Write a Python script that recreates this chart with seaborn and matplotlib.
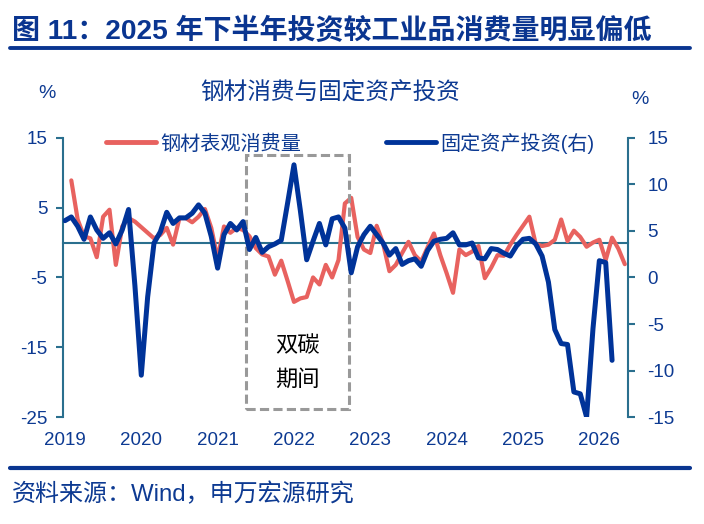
import numpy as np
import pandas as pd
import seaborn as sns
import matplotlib.pyplot as plt
from matplotlib.patches import Rectangle
from matplotlib.lines import Line2D

# monthly values, index 0 = Jan 2019 (None = no data that month)
steel = [None, 8.9, 3.3, 0.9, 0.6, -2.1, 3.7, 4.7, -3.2, 2.3,
         3.5, 3.0, None, None, 0.6, 1.1, 2.1, -0.3, 3.5, 3.5,
         2.9, 3.7, 4.8, 2.1, -2.3, 2.3, 1.4, 2.1, 1.8, 0.9,
         -0.8, -1.7, -2.0, -4.6, -2.6, -5.5, -8.5, -8.0, -7.8, -5.0,
         -6.0, -3.2, -5.0, -2.5, 5.6, 6.4, 0.8, -1.0, -1.5, 2.4,
         -0.1, -4.1, -3.2, -1.5, 0.1, -1.8, -2.7, -0.7, 1.3, -1.8,
         -4.4, -7.2, -1.0, -1.8, -1.3, -0.5, -5.1, -3.6, -1.8, -1.9,
         -0.3, 1.1, 2.4, 3.7, -0.2, -0.5, -0.3, 0.4, 3.3, 0.2,
         1.7, 0.8, -0.6, 0.0, 0.4, -2.5, 0.7, -0.9, -3.1]
fai = [6.1, 6.5, 5.5, 4.1, 6.5, 5.1, 4.2, 4.8, 3.6, 5.1,
       7.3, -0.9, -10.5, -2.1, 3.7, 4.9, 7.0, 5.8, 6.4, 6.4,
       6.9, 7.8, 6.9, 4.4, 1.0, 4.6, 5.8, 5.1, 6.0, 3.0,
       4.3, 2.7, 3.3, 3.6, 4.0, 8.0, 12.1, 7.2, 1.9, 3.9,
       5.8, 3.5, 6.3, 6.5, 5.3, 0.5, 3.3, 4.6, 5.5, 4.6,
       3.7, 2.4, 3.1, 1.4, 1.8, 2.0, 1.2, 2.9, 3.9, 4.1,
       4.2, 4.8, 3.5, 3.5, 3.7, 2.1, 2.0, 3.1, 3.0, 2.6,
       2.3, 3.4, 4.1, 4.2, 3.6, 2.3, -0.5, -5.6, -7.1, -7.2,
       -12.3, -12.5, -15.0, -5.5, 1.8, 1.6, -8.9]
years = ['2019', '2020', '2021', '2022', '2023', '2024', '2025', '2026']
legend_labels = ['钢材表观消费量', '固定资产投资(右)']

sns.set_style('white')
plt.rcParams['font.family'] = ['Liberation Sans', 'Noto Sans CJK SC']
plt.rcParams['axes.unicode_minus'] = False

navy = '#0d3a92'
teal = '#2a6f8e'
red = '#e8625f'
blue = '#003399'

df_s = pd.DataFrame({'month': np.arange(len(steel)), 'val': pd.to_numeric(pd.Series(steel))}).dropna()
df_f = pd.DataFrame({'month': np.arange(len(fai)), 'val': fai})

fig = plt.figure(figsize=(7.04, 5.24), dpi=100)
ax = fig.add_axes([0.089, 0.204, 0.803, 0.533])
ax2 = ax.twinx()

sns.lineplot(data=df_s, x='month', y='val', ax=ax, color=red, linewidth=3.0, zorder=3)
sns.lineplot(data=df_f, x='month', y='val', ax=ax2, color=blue, linewidth=3.6, zorder=3)

ax.set_xlim(-0.36, 88.5)
ax.set_ylim(-25, 15)
ax.set_yticks([-25, -15, -5, 5, 15])
ax2.set_ylim(-15, 15)
ax2.set_yticks(range(-15, 16, 5))
for a in (ax, ax2):
    a.set_xlabel('')
    a.set_ylabel('')
    a.grid(False)

# spines
for s in ['top', 'right']:
    ax.spines[s].set_visible(False)
for s in ['top', 'bottom', 'left']:
    ax2.spines[s].set_visible(False)
ax.spines['left'].set_color(teal)
ax.spines['left'].set_linewidth(1.5)
ax.spines['bottom'].set_position(('data', 0))
ax.spines['bottom'].set_color(teal)
ax.spines['bottom'].set_linewidth(1.5)
ax2.spines['right'].set_color(teal)
ax2.spines['right'].set_linewidth(1.5)

ax.set_xticks(np.arange(0, 96, 12))
ax.tick_params(axis='x', direction='out', length=4, width=1.5, color=teal, labelbottom=False)
ax.tick_params(axis='y', direction='out', length=5, width=1.5, color=teal,
               labelcolor=navy, labelsize=13.5, pad=6)
ax2.tick_params(axis='y', direction='out', length=5, width=1.5, color=teal,
                labelcolor=navy, labelsize=13.5, pad=9)

secax = ax.secondary_xaxis(0)
secax.set_xticks(np.arange(0, 96, 12), labels=years)
secax.tick_params(length=0, pad=11, labelsize=13.5, labelcolor=navy)
secax.spines['bottom'].set_visible(False)

# legend
handles = [Line2D([], [], color=red, lw=3.5), Line2D([], [], color=blue, lw=3.5)]
ax2.legend(handles, legend_labels, ncol=2, loc='center', bbox_to_anchor=(0.508, 0.982),
           frameon=False, fontsize=14.5, handlelength=2.5, columnspacing=4.2,
           handletextpad=0.2, labelcolor=navy)

# "双碳期间" box
ax.add_patch(Rectangle((28.4, -23.8), 16.2, 36.4, fill=False, ls=(0, (3, 1.4)),
                       lw=2.2, ec='#999999', zorder=4, clip_on=False))
ax.text(36.5, -17.3, '双碳\n期间', ha='center', va='center', fontsize=16,
        linespacing=1.8, color='black', zorder=5)

# header / footer
fig.text(12 / 704, 1 - 31 / 524, '图 11：2025 年下半年投资较工业品消费量明显偏低',
         fontsize=20.2, fontweight='bold', color='#0a3590', va='center', ha='left')
fig.add_artist(Line2D([10 / 704, 690 / 704], [1 - 48 / 524] * 2, color='#0a3590', lw=2.8))
fig.text(330 / 704, 1 - 93 / 524, '钢材消费与固定资产投资', fontsize=17, color=navy,
         ha='center', va='center')
fig.text(47 / 704, 1 - 94 / 524, '%', fontsize=14, color=navy, ha='center', va='center')
fig.text(640 / 704, 1 - 100 / 524, '%', fontsize=14, color=navy, ha='center', va='center')
fig.add_artist(Line2D([10 / 704, 690 / 704], [1 - 468 / 524] * 2, color='#0a3590', lw=3))
fig.text(12 / 704, 1 - 495 / 524, '资料来源：Wind，申万宏源研究', fontsize=17.3, color=navy,
         ha='left', va='center')

fig.savefig('out.png', dpi=100)
